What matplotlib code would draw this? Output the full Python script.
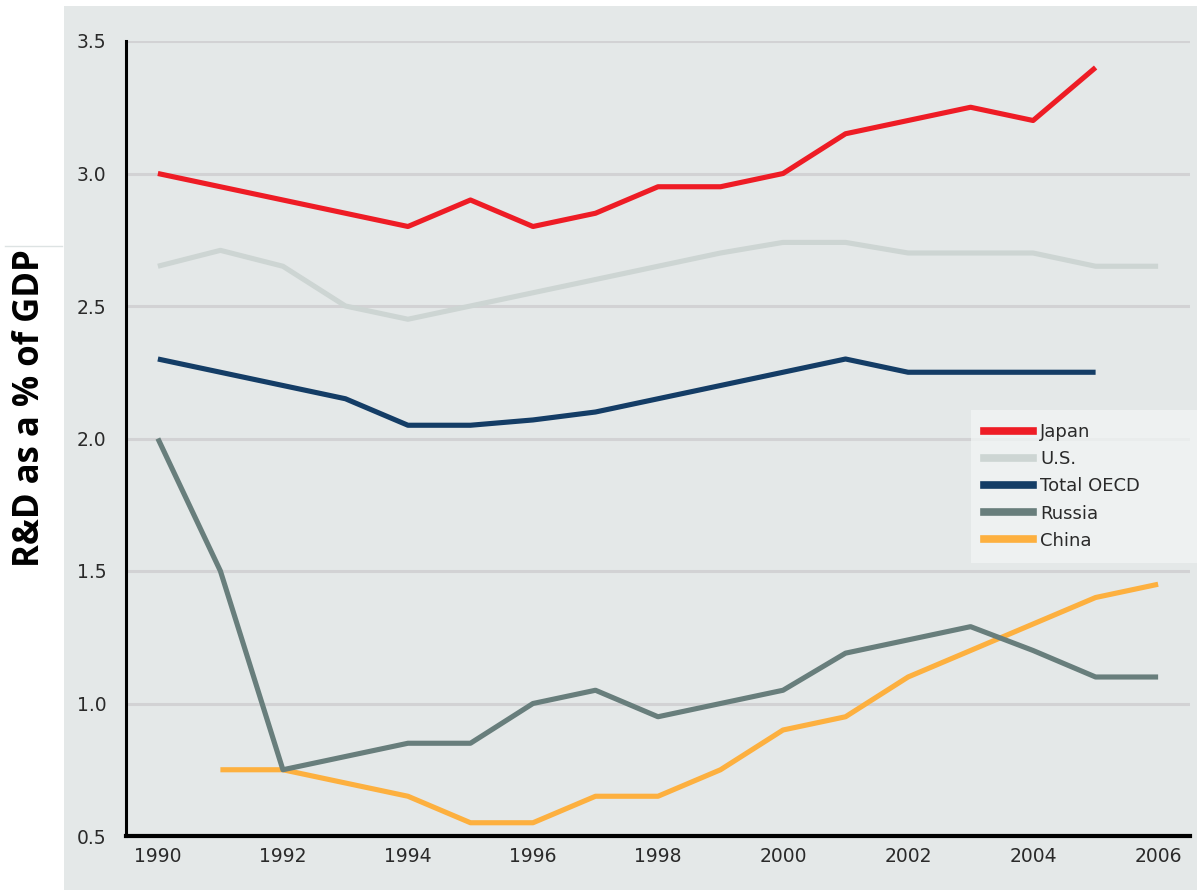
import numpy as np
import matplotlib
matplotlib.use("Agg")
import matplotlib.pyplot as plt
from matplotlib.patches import Rectangle
from matplotlib.lines import Line2D

# R&D spending as a share of GDP
years = np.arange(1990, 2007)
japan = [3.0, 2.95, 2.9, 2.85, 2.8, 2.9, 2.8, 2.85, 2.95, 2.95, 3.0, 3.15, 3.2, 3.25, 3.2, 3.4]
us = [2.65, 2.71, 2.65, 2.5, 2.45, 2.5, 2.55, 2.6, 2.65, 2.7, 2.74, 2.74, 2.7, 2.7, 2.7, 2.65, 2.65]
oecd = [2.3, 2.25, 2.2, 2.15, 2.05, 2.05, 2.07, 2.1, 2.15, 2.2, 2.25, 2.3, 2.25, 2.25, 2.25, 2.25]
russia = [2.0, 1.5, 0.75, 0.8, 0.85, 0.85, 1.0, 1.05, 0.95, 1.0, 1.05, 1.19, 1.24, 1.29, 1.2, 1.1, 1.1]
china_years = np.arange(1991, 2007)
china = [0.75, 0.75, 0.7, 0.65, 0.55, 0.55, 0.65, 0.65, 0.75, 0.9, 0.95, 1.1, 1.2, 1.3, 1.4, 1.45]

labels = ["Japan", "U.S.", "Total OECD", "Russia", "China"]
colors = ["#ee1c25", "#cdd5d3", "#143d66", "#687e7c", "#fdb03f"]

fig = plt.figure(figsize=(11.97, 8.9), dpi=100)
fig.patch.set_facecolor("white")
# grey panel behind the plot
fig.patches.append(Rectangle((64 / 1197, 0), 1 - 64 / 1197, 1 - 6 / 890,
                             transform=fig.transFigure, facecolor="#e4e8e8",
                             edgecolor="none", zorder=-5))
fig.lines.append(Line2D([5 / 1197, 62 / 1197], [1 - 246 / 890] * 2,
                        transform=fig.transFigure, color="#dde3e3", lw=1, zorder=-5))

ax = fig.add_axes([126 / 1197, 54 / 890, 1064 / 1197, 795 / 890])
ax.set_facecolor("none")

kw = dict(lw=3.7, solid_joinstyle="round", solid_capstyle="butt")
ax.plot(years[:len(us)], us, color=colors[1], label=labels[1], zorder=3, **kw)
ax.plot(years[:len(japan)], japan, color=colors[0], label=labels[0], zorder=4, **kw)
ax.plot(years[:len(oecd)], oecd, color=colors[2], label=labels[2], zorder=4, **kw)
ax.plot(china_years, china, color=colors[4], label=labels[4], zorder=3, **kw)
ax.plot(years[:len(russia)], russia, color=colors[3], label=labels[3], zorder=4, **kw)

ax.set_xlim(1989.49, 2006.51)
ax.set_ylim(0.5, 3.5)
ax.set_xticks(np.arange(1990, 2007, 2))
ax.set_yticks(np.arange(0.5, 3.51, 0.5))
ax.set_yticklabels([f"{v:.1f}" for v in np.arange(0.5, 3.51, 0.5)])
ax.yaxis.grid(True, color="#d2d2d4", lw=2.2, zorder=1)
ax.set_axisbelow(True)
ax.tick_params(length=0, labelsize=13.5, labelcolor="#2a2a2a")
ax.tick_params(axis="y", pad=14)
ax.tick_params(axis="x", pad=8)
for s in ["top", "right"]:
    ax.spines[s].set_visible(False)
ax.spines["left"].set_linewidth(2.2)
ax.spines["bottom"].set_linewidth(3)
ax.spines["left"].set_color("black")
ax.spines["bottom"].set_color("black")

handles = [Line2D([], [], color=colors[i], lw=5.5) for i in range(5)]
leg = ax.legend(handles, labels, loc="upper left", mode="expand",
                bbox_to_anchor=(0.794, 0.536, 0.2124, 0.0),
                borderaxespad=0, frameon=True, fancybox=False, facecolor="#f2f5f5",
                framealpha=0.75, edgecolor="none", handlelength=2.7,
                handletextpad=0.4, labelspacing=0.5, borderpad=0.75,
                prop={"size": 13})
for t in leg.get_texts():
    t.set_color("#2a2a2a")

fig.text(30 / 1197, 1 - 408 / 890, "R&D as a % of GDP", rotation=90,
         ha="center", va="center", fontsize=25, fontweight="bold",
         family="Open Sans", color="black")

fig.savefig("out.png", dpi=100)
